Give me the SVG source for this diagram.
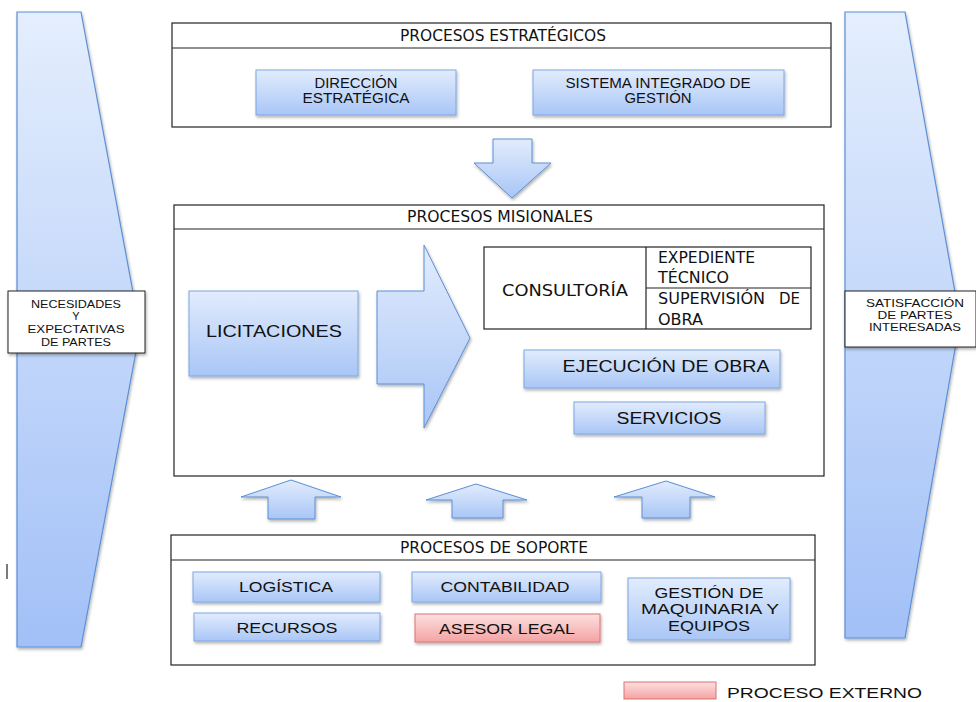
<svg xmlns="http://www.w3.org/2000/svg" width="976" height="702" viewBox="0 0 976 702">
<defs>
<linearGradient id="gb" x1="0" y1="0" x2="0" y2="1"><stop offset="0" stop-color="#e2ecfd"/><stop offset="1" stop-color="#a9c6f6"/></linearGradient>
<linearGradient id="gr" x1="0" y1="0" x2="0" y2="1"><stop offset="0" stop-color="#fde0e0"/><stop offset="1" stop-color="#f3a3a3"/></linearGradient>
<linearGradient id="gp" x1="0" y1="0" x2="0" y2="1"><stop offset="0" stop-color="#e4eefd"/><stop offset="1" stop-color="#a2c0f7"/></linearGradient>
<filter id="sh" x="-10%" y="-10%" width="130%" height="140%"><feDropShadow dx="1" dy="2" stdDeviation="1.5" flood-color="#000" flood-opacity="0.3"/></filter>
<style>
.frame{fill:#fff;stroke:#222;stroke-width:1.2}
.hdr{stroke:#222;stroke-width:1.2}
.bx{fill:url(#gb);stroke:#7fa6e2;stroke-width:1;filter:url(#sh)}
.rx{fill:url(#gr);stroke:#e07070;stroke-width:1;filter:url(#sh)}
.ar{fill:url(#gb);stroke:#5b8fd6;stroke-width:1;filter:url(#sh)}
.pent{fill:url(#gp);stroke:#5b8fd6;stroke-width:1.2;filter:url(#sh)}
.lbl{fill:#fff;stroke:#222;stroke-width:1;filter:url(#sh)}
.t{font-family:"Liberation Sans Narrow","DejaVu Sans Condensed","Liberation Sans",sans-serif;font-size:15px;fill:#111;text-anchor:middle}
.s{font-family:"Liberation Sans",Arial,sans-serif;font-size:14px;fill:#111;text-anchor:middle}
.sm{font-family:"Liberation Sans",Arial,sans-serif;font-size:11px;fill:#111;text-anchor:middle}
.tl{font-family:"Liberation Sans Narrow","DejaVu Sans Condensed","Liberation Sans",sans-serif;font-size:15px;fill:#111}
</style>
</defs>

<g id="left-pentagon">
<polygon class="pent" points="17,12 81,12 140,330 81,647 17,647"/>
<rect class="lbl" x="8" y="291" width="137" height="62"/>
<text class="sm" x="76" y="308" textLength="90" lengthAdjust="spacingAndGlyphs">NECESIDADES</text>
<text class="sm" x="76" y="320">Y</text>
<text class="sm" x="76" y="333" textLength="97" lengthAdjust="spacingAndGlyphs">EXPECTATIVAS</text>
<text class="sm" x="76" y="346" textLength="70" lengthAdjust="spacingAndGlyphs">DE PARTES</text>
</g>

<g id="right-pentagon">
<polygon class="pent" points="845,12 905,12 960,320 905,638 845,638"/>
<rect class="lbl" x="845" y="291" width="131" height="56"/>
<text class="sm" x="915" y="307" textLength="98" lengthAdjust="spacingAndGlyphs">SATISFACCIÓN</text>
<text class="sm" x="915" y="319" textLength="75" lengthAdjust="spacingAndGlyphs">DE PARTES</text>
<text class="sm" x="915" y="331" textLength="92" lengthAdjust="spacingAndGlyphs">INTERESADAS</text>
</g>

<g id="estrategicos">
<rect class="frame" x="172" y="23" width="659" height="104"/>
<line class="hdr" x1="172" y1="48" x2="831" y2="48"/>
<text class="t" x="503" y="41" textLength="206" lengthAdjust="spacingAndGlyphs">PROCESOS ESTRATÉGICOS</text>
</g>
<g id="direccion">
<rect class="bx" x="256" y="70" width="200" height="45"/>
<text class="s" x="356" y="88" textLength="83" lengthAdjust="spacingAndGlyphs">DIRECCIÓN</text>
<text class="s" x="356" y="103" textLength="107" lengthAdjust="spacingAndGlyphs">ESTRATÉGICA</text>
</g>
<g id="sig">
<rect class="bx" x="533" y="70" width="251" height="45"/>
<text class="s" x="658" y="88" textLength="185" lengthAdjust="spacingAndGlyphs">SISTEMA INTEGRADO DE</text>
<text class="s" x="658" y="103" textLength="67" lengthAdjust="spacingAndGlyphs">GESTIÓN</text>
</g>

<g id="misionales">
<rect class="frame" x="174" y="205" width="650" height="271"/>
<line class="hdr" x1="174" y1="229" x2="824" y2="229"/>
<text class="t" x="500" y="222" textLength="186" lengthAdjust="spacingAndGlyphs">PROCESOS MISIONALES</text>
</g>
<g id="licitaciones">
<rect class="bx" x="189" y="291" width="169" height="85"/>
<text class="s" x="274" y="337" style="font-size:17px" textLength="136" lengthAdjust="spacingAndGlyphs">LICITACIONES</text>
</g>
<g id="consultoria">
<rect x="484" y="247" width="327" height="82" fill="#fff" stroke="#222" stroke-width="1.2"/>
<line x1="646" y1="247" x2="646" y2="329" stroke="#222" stroke-width="1.2"/>
<line x1="646" y1="288" x2="811" y2="288" stroke="#222" stroke-width="1.2"/>
<text class="t" x="565" y="296" style="font-size:16px" textLength="126" lengthAdjust="spacingAndGlyphs">CONSULTORÍA</text>
<text class="tl" x="658" y="263" textLength="97" lengthAdjust="spacingAndGlyphs">EXPEDIENTE</text>
<text class="tl" x="658" y="283" textLength="71" lengthAdjust="spacingAndGlyphs">TÉCNICO</text>
<text class="tl" x="658" y="304" textLength="107" lengthAdjust="spacingAndGlyphs">SUPERVISIÓN</text>
<text class="tl" x="779" y="304" textLength="21" lengthAdjust="spacingAndGlyphs">DE</text>
<text class="tl" x="658" y="325" textLength="45" lengthAdjust="spacingAndGlyphs">OBRA</text>
</g>
<g id="ejecucion">
<rect class="bx" x="524" y="350" width="256" height="38"/>
<text class="s" x="666" y="372" style="font-size:17px" textLength="207" lengthAdjust="spacingAndGlyphs">EJECUCIÓN DE OBRA</text>
</g>
<g id="servicios">
<rect class="bx" x="574" y="402" width="191" height="32"/>
<text class="s" x="669" y="424" style="font-size:16px" textLength="105" lengthAdjust="spacingAndGlyphs">SERVICIOS</text>
</g>

<g id="soporte">
<rect class="frame" x="171" y="535" width="644" height="130"/>
<line class="hdr" x1="171" y1="560" x2="815" y2="560"/>
<text class="t" x="494" y="553" textLength="188" lengthAdjust="spacingAndGlyphs">PROCESOS DE SOPORTE</text>
</g>
<g id="logistica">
<rect class="bx" x="193" y="572" width="187" height="30"/>
<text class="s" x="286" y="592" textLength="94" lengthAdjust="spacingAndGlyphs">LOGÍSTICA</text>
</g>
<g id="recursos">
<rect class="bx" x="194" y="613" width="186" height="28"/>
<text class="s" x="287" y="633" textLength="101" lengthAdjust="spacingAndGlyphs">RECURSOS</text>
</g>
<g id="contabilidad">
<rect class="bx" x="412" y="572" width="189" height="30"/>
<text class="s" x="505" y="592" textLength="129" lengthAdjust="spacingAndGlyphs">CONTABILIDAD</text>
</g>
<g id="asesor">
<rect class="rx" x="415" y="614" width="185" height="28"/>
<text class="s" x="507" y="634" textLength="136" lengthAdjust="spacingAndGlyphs">ASESOR LEGAL</text>
</g>
<g id="maquinaria">
<rect class="bx" x="628" y="578" width="162" height="62"/>
<text class="s" x="709" y="598" textLength="109" lengthAdjust="spacingAndGlyphs">GESTIÓN DE</text>
<text class="s" x="710" y="614" textLength="138" lengthAdjust="spacingAndGlyphs">MAQUINARIA Y</text>
<text class="s" x="709" y="631" textLength="82" lengthAdjust="spacingAndGlyphs">EQUIPOS</text>
</g>

<g id="connectors">
<polygon class="ar" points="493,139 532,139 532,163 551,163 512,198 474,163 493,163"/>
<polygon class="ar" points="377,291 424,291 424,245 470,338 424,428 424,384 377,384"/>
<polygon class="ar" points="268,519 315,519 315,497 341,497 291,480 241,497 268,497"/>
<polygon class="ar" points="452,518 503,518 503,500 527,500 476,484 426,500 452,500"/>
<polygon class="ar" points="642,518 690,518 690,497 715,497 666,481 614,497 642,497"/>
</g>

<g id="legend">
<rect class="rx" x="624" y="682" width="92" height="17" style="filter:none"/>
<text x="727" y="698" font-family="Liberation Sans, Arial, sans-serif" font-size="15" fill="#111" textLength="195" lengthAdjust="spacingAndGlyphs">PROCESO EXTERNO</text>
</g>
<line x1="7" y1="564" x2="7" y2="579" stroke="#222" stroke-width="1.2"/>
</svg>
